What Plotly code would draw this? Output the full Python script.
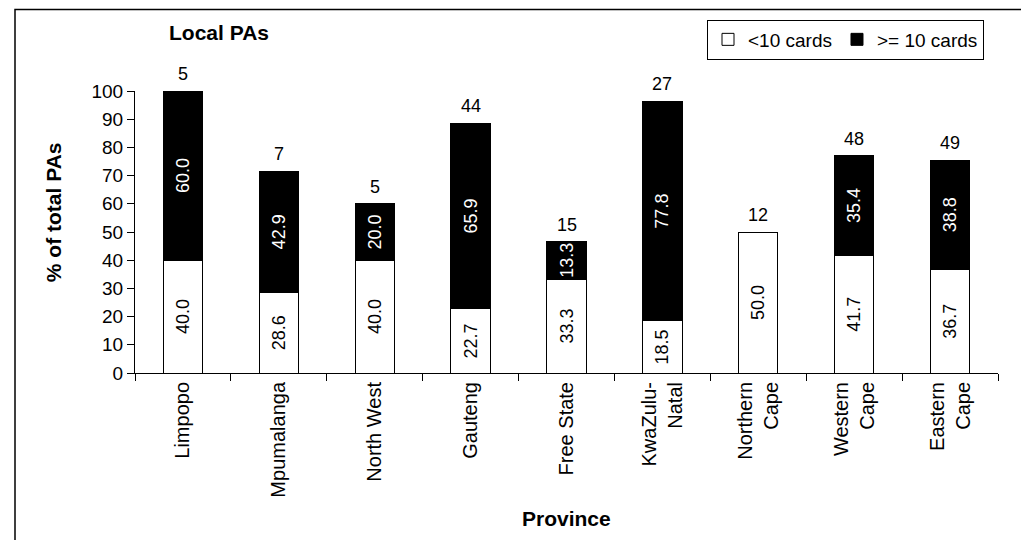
import plotly.graph_objects as go

provinces = ["Limpopo", "Mpumalanga", "North West", "Gauteng", "Free State",
             "KwaZulu-<br>Natal", "Northern<br>Cape", "Western<br>Cape", "Eastern<br>Cape"]
under10 = [40.0, 28.6, 40.0, 22.7, 33.3, 18.5, 50.0, 41.7, 36.7]
over10 = [60.0, 42.9, 20.0, 65.9, 13.3, 77.8, 0.0, 35.4, 38.8]
counts = [5, 7, 5, 44, 15, 27, 12, 48, 49]
yticks = [0, 10, 20, 30, 40, 50, 60, 70, 80, 90, 100]

FONT = "Liberation Sans, Arial, sans-serif"
# page body has an 8px margin; figure sized so it ends at the window edge
W, H = 1021, 532
L, R, T, B = 127, 31, 81, 167
pw, ph = W - L - R, H - T - B
OFF = 8

def px(x):  # x in window pixels
    return (x - OFF - L) / pw

def py(y):  # y in window pixels
    return (H - B - (y - OFF)) / ph

fig = go.Figure()
fig.add_trace(go.Bar(
    x=provinces, y=under10, name="<10 cards",
    marker=dict(color="white", line=dict(color="black", width=1)),
    text=[f"{v:.1f}" if v > 0 else "" for v in under10],
    textposition="inside", insidetextanchor="middle", textangle=-90,
    textfont=dict(color="black", size=18, family=FONT),
    constraintext="none", width=0.41,
))
fig.add_trace(go.Bar(
    x=provinces, y=over10, name=">= 10 cards",
    marker=dict(color="black", line=dict(color="black", width=1)),
    text=[f"{v:.1f}" if v > 0 else "" for v in over10],
    textposition="inside", insidetextanchor="middle", textangle=-90,
    textfont=dict(color="white", size=18, family=FONT),
    constraintext="none", width=0.41,
))

totals = [a + b for a, b in zip(under10, over10)]
annotations = []
for p, t, c in zip(provinces, totals, counts):
    annotations.append(dict(x=p, y=t, xref="x", yref="y", text=str(c), showarrow=False,
                            yanchor="bottom", yshift=5,
                            font=dict(size=18, color="black", family=FONT)))
annotations.append(dict(x=px(167), y=py(30), xref="paper", yref="paper", text="<b>Local PAs</b>",
                        showarrow=False, xanchor="left", yanchor="middle",
                        font=dict(size=21, color="black", family=FONT)))
annotations.append(dict(x=px(53), y=py(211), xref="paper", yref="paper", text="<b>% of total PAs</b>",
                        showarrow=False, textangle=-90, xanchor="center", yanchor="middle",
                        font=dict(size=21, color="black", family=FONT)))
annotations.append(dict(x=px(566), y=py(520), xref="paper", yref="paper", text="<b>Province</b>",
                        showarrow=False, xanchor="center", yanchor="middle",
                        font=dict(size=21, color="black", family=FONT)))

fig.update_layout(
    template="none",
    width=W, height=H,
    margin=dict(l=L, r=R, t=T, b=B, pad=0),
    paper_bgcolor="white", plot_bgcolor="white",
    barmode="stack",
    font=dict(family=FONT, size=19, color="black"),
    uniformtext=dict(minsize=18, mode="show"),
    showlegend=True,
    legend=dict(orientation="h", x=px(984), y=py(17), xanchor="right", yanchor="top",
                bordercolor="black", borderwidth=1, bgcolor="white",
                font=dict(size=19, family=FONT, color="black"),
                itemwidth=30, traceorder="normal"),
    xaxis=dict(showline=True, linecolor="black", linewidth=1, ticks="outside",
               tickson="boundaries", ticklen=7, tickcolor="black", tickangle=-90,
               showgrid=False, zeroline=False, automargin=False,
               tickfont=dict(size=20, family=FONT, color="black")),
    yaxis=dict(range=[0, 100], tickvals=yticks, showline=True, linecolor="black", linewidth=1,
               ticks="outside", ticklen=7, tickcolor="black", showgrid=False, zeroline=False,
               automargin=False, tickfont=dict(size=19, family=FONT, color="black")),
    annotations=annotations,
    shapes=[dict(type="rect", xref="paper", yref="paper", x0=px(15), x1=px(1022),
                 y0=py(560), y1=py(7), line=dict(color="black", width=1.5),
                 fillcolor="rgba(0,0,0,0)", layer="below")],
)

fig.write_html("out.html")
